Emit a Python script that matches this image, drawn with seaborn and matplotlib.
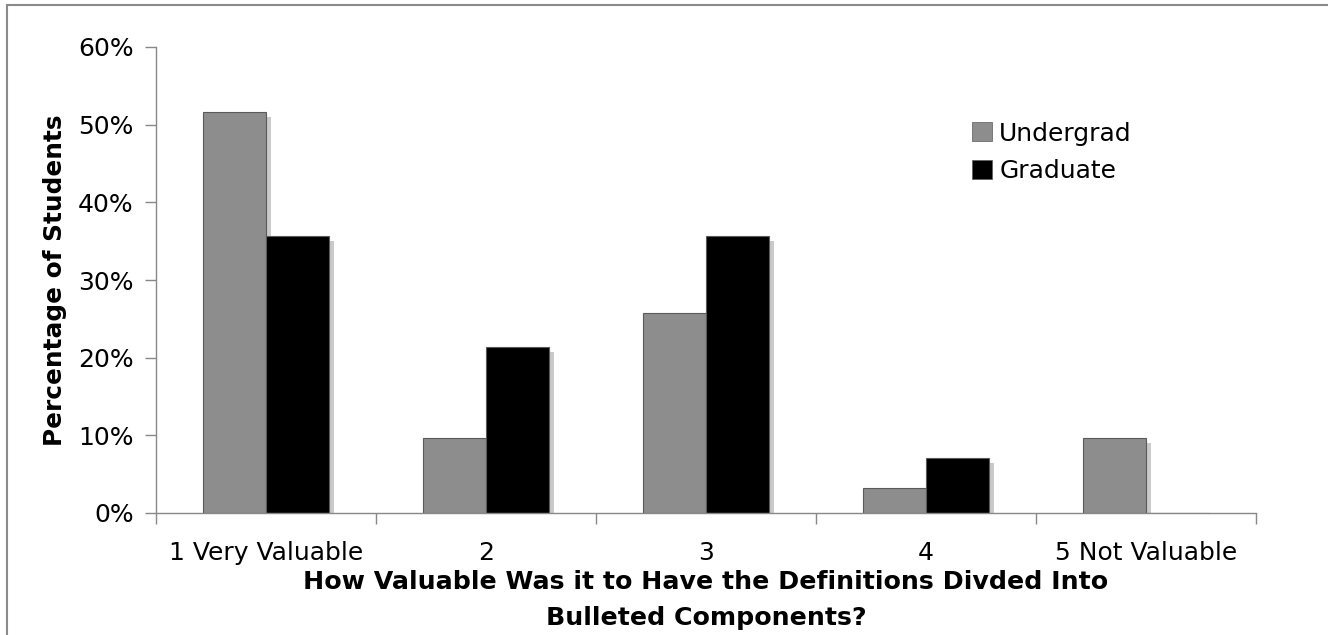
import matplotlib
matplotlib.use("Agg")
import matplotlib.pyplot as plt
import matplotlib.patheffects as pe
from matplotlib.patches import Rectangle, Patch
from matplotlib.ticker import PercentFormatter
import seaborn as sns
import pandas as pd

# Survey responses: share of students per rating
categories = ["1 Very Valuable", "2", "3", "4", "5 Not Valuable"]
undergrad = [51.6, 9.7, 25.8, 3.2, 9.7]
graduate = [35.7, 21.4, 35.7, 7.1, 0.0]
groups = ["Undergrad", "Graduate"]
y_ticks = [0, 10, 20, 30, 40, 50, 60]

df = pd.DataFrame({
    "rating": categories * 2,
    "group": [groups[0]] * len(categories) + [groups[1]] * len(categories),
    "pct": undergrad + graduate,
})

palette = {"Undergrad": "#8d8d8d", "Graduate": "#000000"}
edge = "#5a5a5a"

sns.set_theme(style="white")
plt.rcParams["font.family"] = ["DejaVu Sans"]
plt.rcParams["text.color"] = "black"
plt.rcParams["axes.labelcolor"] = "black"

fig = plt.figure(figsize=(13.28, 6.35), dpi=100)
ax = fig.add_axes([156 / 1328, 1 - 513 / 635, 1100 / 1328, 466 / 635])

sns.barplot(
    data=df, x="rating", y="pct", hue="group", order=categories,
    hue_order=groups, palette=palette,
    width=0.57, ax=ax, edgecolor=edge, linewidth=0.8, errorbar=None,
    legend=False,
)

# drop shadow behind every bar
shadow = [pe.SimplePatchShadow(offset=(3.6, -3.6), shadow_rgbFace="#cacaca", alpha=1.0),
          pe.Normal()]
for bar in ax.patches:
    bar.set_path_effects(shadow)

ax.set_ylim(0, 60)
ax.set_xlim(-0.5, len(categories) - 0.5)
ax.set_yticks(y_ticks)
ax.yaxis.set_major_formatter(PercentFormatter(decimals=0))

# ticks sit between categories; labels centred on each category
ax.set_xticks([i - 0.5 for i in range(len(categories) + 1)])
ax.set_xticklabels([])
ax.set_xticks(range(len(categories)), minor=True)
ax.set_xticklabels(categories, minor=True)
ax.tick_params(axis="x", which="minor", length=0, pad=20, labelsize=18, colors="black")
ax.tick_params(axis="x", which="major", length=8, width=1, color="#888888", direction="out")
ax.tick_params(axis="y", length=8, width=1, color="#888888", direction="out",
               labelsize=18, labelcolor="black", pad=8)
ax.xaxis.set_ticks_position("bottom")
ax.yaxis.set_ticks_position("left")

for side in ("top", "right"):
    ax.spines[side].set_visible(False)
for side in ("left", "bottom"):
    ax.spines[side].set_color("#888888")
    ax.spines[side].set_linewidth(1)

ax.set_ylabel("Percentage of Students", fontsize=17.8, fontweight="bold", labelpad=8)
ax.set_xlabel("How Valuable Was it to Have the Definitions Divded Into\nBulleted Components?",
              fontsize=18.2, fontweight="bold", labelpad=4, linespacing=1.62)

handles = [Patch(facecolor=palette[g], edgecolor=edge, linewidth=0.5) for g in groups]
ax.legend(handles, groups, loc="upper left", bbox_to_anchor=(0.742, 0.840),
          frameon=False, fontsize=18, handlelength=0.8, handleheight=0.8,
          handletextpad=0.28, labelspacing=0.54, borderaxespad=0, borderpad=0)

# outer frame around the chart area
fig.patches.append(Rectangle((6.5 / 1328, -0.1), 1.2, 1.1 - 5.5 / 635,
                             transform=fig.transFigure, fill=False,
                             edgecolor="#8a8a8a", linewidth=1.5))

fig.savefig("out.png", dpi=100)
